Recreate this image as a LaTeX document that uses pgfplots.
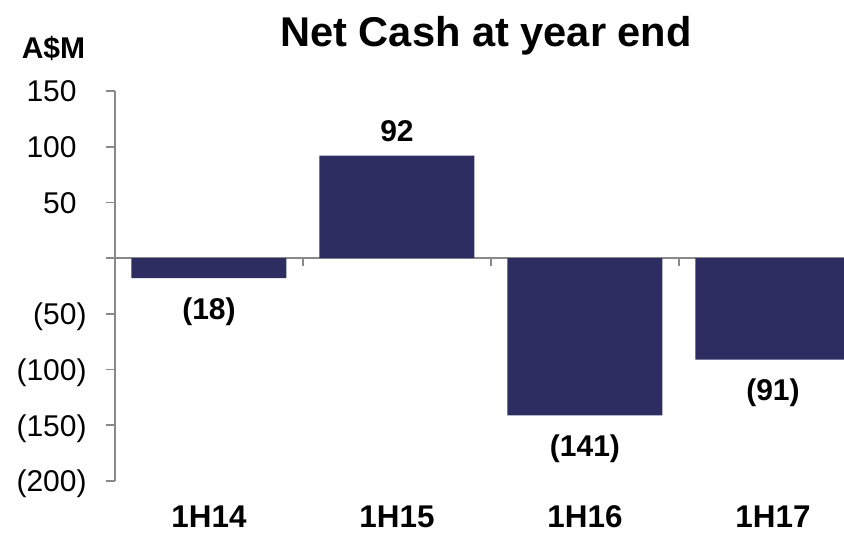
\documentclass[border=0pt]{standalone}
\usepackage{fontspec}
\setmainfont{Liberation Sans}
\usepackage{pgfplots}
\usepackage{pgfplotstable}
\pgfplotsset{compat=1.18}
\definecolor{barcol}{HTML}{2E2D62}
\definecolor{axgray}{HTML}{898989}

\pgfplotstableread{
x y label
1 -18 (18)
2 92 92
3 -141 (141)
4 -91 (91)
}\netcash

\begin{document}
\begin{tikzpicture}
\useasboundingbox (-57.5pt,-25.5pt) rectangle (364.5pt,240.5pt);
\begin{axis}[
  at={(0pt,0pt)}, anchor=south west,
  scale only axis, width=364.5pt, height=195pt,
  xmin=0.5, xmax=4.378, ymin=-200, ymax=150,
  axis x line=middle, axis y line=left,
  axis line style={-, draw=axgray, line width=0.9pt},
  tick style={draw=axgray, line width=0.9pt},
  tick align=outside,
  major tick length=4.5pt, minor tick length=4pt,
  ytick={-200,-150,-100,-50,0,50,100,150},
  yticklabels={(200),(150),(100),(50),{},50\phantom{)},100\phantom{)},150\phantom{)}},
  yticklabel style={font=\fontsize{15}{18}\selectfont, anchor=east, inner sep=0pt, text height=10.74pt, text depth=0pt, xshift=-9.5pt},
  xtick={1,2,3,4},
  xticklabels={1H14,1H15,1H16,1H17},
  major x tick style={draw=none},
  minor xtick={1.5,2.5,3.5},
  xticklabel style={font=\fontsize{15.7}{18}\bfseries\selectfont, anchor=base, inner sep=0pt, text depth=0pt, yshift=-130.3pt},
  title={Net Cash at year end},
  every axis title/.style={font=\fontsize{20.8}{24}\bfseries\selectfont, at={(0.509,1)}, anchor=base, yshift=22.15pt, inner sep=0pt},
  ylabel={A\$M},
  every axis y label/.style={at={(axis description cs:-0.0844,1)}, anchor=base, yshift=16.5pt, inner sep=0pt, font=\fontsize{15}{18}\bfseries\selectfont},
  /pgf/number format/assume math mode=true,
]
\addplot[ybar, bar width=77.5pt, fill=barcol, draw=none,
  point meta=explicit symbolic,
  nodes near coords,
  visualization depends on={\thisrow{y} \as \yval},
  every node near coord/.append style={anchor=base, inner sep=0pt,
     font=\fontsize{15}{18}\bfseries\selectfont,
     yshift={ifthenelse(\yval<0,-20.5,7.15)}},
] table[x=x, y=y, meta=label] {\netcash};
\end{axis}
\end{tikzpicture}
\end{document}
